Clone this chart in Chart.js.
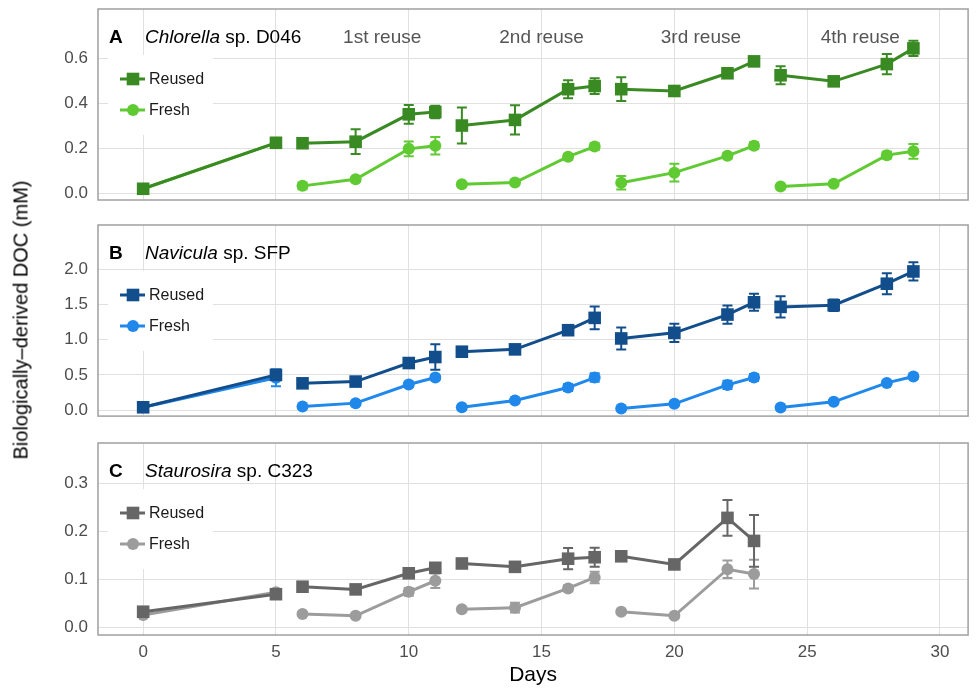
<!DOCTYPE html>
<html>
<head>
<meta charset="utf-8">
<script src="https://cdn.jsdelivr.net/npm/chart.js@4.4.1/dist/chart.umd.min.js"></script>
<style>
  body { margin: 0; background: #fff; }
  #wrap { position: relative; width: 977px; height: 689px; font-family: "Liberation Sans", Arial, sans-serif; }
  #wrap canvas { position: absolute; left: 0; }
  #ytitle { position: absolute; left: 21px; top: 320px; transform: translate(-50%, -50%) rotate(-90deg);
            white-space: nowrap; font-size: 20px; color: #000; }
</style>
</head>
<body>
<div id="wrap">
  <canvas id="panelA" width="977" height="215" style="top:0px"></canvas>
  <canvas id="panelB" width="977" height="210" style="top:215px"></canvas>
  <canvas id="panelC" width="977" height="264" style="top:425px"></canvas>
  <div id="ytitle">Biologically–derived DOC (mM)</div>
</div>
<script>
// sampling days; null marks a break between culture batches
const days = [0, 5, null, 6, 8, 10, 11, null, 12, 14, 16, 17, null, 18, 20, 22, 23, null, 24, 26, 28, 29];

// A - Chlorella sp. D046
const chlorellaReused    = [0.02, 0.225, null, 0.223, 0.23, 0.352, 0.362, null, 0.302, 0.327, 0.464, 0.478, null, 0.464, 0.456, 0.535, 0.588, null, 0.526, 0.499, 0.576, 0.646];
const chlorellaReusedErr = [0.008, 0.01, null, 0.008, 0.055, 0.042, 0.028, null, 0.08, 0.065, 0.04, 0.035, null, 0.053, 0.01, 0.015, 0.01, null, 0.04, 0.015, 0.045, 0.034];
const chlorellaFresh     = [0.02, 0.225, null, 0.033, 0.062, 0.198, 0.212, null, 0.040, 0.048, 0.163, 0.208, null, 0.047, 0.092, 0.167, 0.212, null, 0.030, 0.042, 0.170, 0.187];
const chlorellaFreshErr  = [0.005, 0.008, null, 0.015, 0.008, 0.033, 0.039, null, 0.008, 0.008, 0.012, 0.015, null, 0.03, 0.04, 0.012, 0.015, null, 0.006, 0.01, 0.015, 0.033];

// B - Navicula sp. SFP
const naviculaReused    = [0.04, 0.50, null, 0.38, 0.405, 0.668, 0.753, null, 0.829, 0.862, 1.134, 1.309, null, 1.017, 1.097, 1.356, 1.53, null, 1.465, 1.488, 1.794, 1.968];
const naviculaReusedErr = [0.03, 0.05, null, 0.03, 0.03, 0.04, 0.18, null, 0.03, 0.06, 0.05, 0.16, null, 0.157, 0.13, 0.13, 0.12, null, 0.15, 0.08, 0.15, 0.13];
const naviculaFresh     = [0.04, 0.46, null, 0.052, 0.099, 0.363, 0.462, null, 0.042, 0.137, 0.32, 0.462, null, 0.024, 0.089, 0.358, 0.462, null, 0.038, 0.117, 0.386, 0.476];
const naviculaFreshErr  = [0.02, 0.12, null, 0.02, 0.02, 0.03, 0.03, null, 0.02, 0.02, 0.05, 0.06, null, 0.02, 0.02, 0.06, 0.05, null, 0.02, 0.02, 0.03, 0.03];

// C - Staurosira sp. C323 (no 4th reuse)
const staurosiraReused    = [0.0325, 0.069, null, 0.0846, 0.079, 0.1125, 0.124, null, 0.133, 0.126, 0.143, 0.146, null, 0.148, 0.131, 0.228, 0.18, null, null, null, null, null];
const staurosiraReusedErr = [0.004, 0.007, null, 0.005, 0.005, 0.006, 0.01, null, 0.005, 0.005, 0.022, 0.02, null, 0.008, 0.005, 0.037, 0.054, null, null, null, null, null];
const staurosiraFresh     = [0.0256, 0.073, null, 0.0277, 0.024, 0.074, 0.097, null, 0.0375, 0.041, 0.081, 0.104, null, 0.0325, 0.024, 0.121, 0.111, null, null, null, null, null];
const staurosiraFreshErr  = [0.003, 0.005, null, 0.004, 0.004, 0.008, 0.015, null, 0.004, 0.01, 0.006, 0.012, null, 0.004, 0.004, 0.018, 0.03, null, null, null, null, null];

const dayTicks = [0, 5, 10, 15, 20, 25, 30];
const ticksA = [0, 0.2, 0.4, 0.6];
const ticksB = [0, 0.5, 1.0, 1.5, 2.0];
const ticksC = [0, 0.1, 0.2, 0.3];
const reuseLabels = ['1st reuse', '2nd reuse', '3rd reuse', '4th reuse'];

Chart.defaults.font.family = '"Liberation Sans", Arial, sans-serif';

const errorBars = {
  id: 'errorBars',
  afterDatasetDraw(chart, args) {
    const ds = chart.data.datasets[args.index];
    if (!ds.errors) return;
    const ctx = chart.ctx, xs = chart.scales.x, ys = chart.scales.y;
    ctx.save();
    ctx.strokeStyle = ds.borderColor;
    ctx.lineWidth = 2;
    ds.data.forEach((p, i) => {
      const e = ds.errors[i];
      if (p.y == null || e == null) return;
      const px = xs.getPixelForValue(p.x);
      const t = ys.getPixelForValue(p.y + e), b = ys.getPixelForValue(p.y - e);
      ctx.beginPath();
      ctx.moveTo(px, t); ctx.lineTo(px, b);
      ctx.moveTo(px - 5, t); ctx.lineTo(px + 5, t);
      ctx.moveTo(px - 5, b); ctx.lineTo(px + 5, b);
      ctx.stroke();
    });
    ctx.restore();
  }
};

function drawMarker(ctx, style, x, y, color) {
  ctx.fillStyle = color;
  if (style === 'rect') ctx.fillRect(x - 6.3, y - 6.3, 12.6, 12.6);
  else { ctx.beginPath(); ctx.arc(x, y, 6, 0, Math.PI * 2); ctx.fill(); }
}

const panelDeco = {
  id: 'panelDeco',
  afterDatasetsDraw(chart, args, opts) {
    const ctx = chart.ctx, a = chart.chartArea;
    ctx.save();
    // inset legend
    ctx.fillStyle = '#fff';
    ctx.fillRect(a.left + 10, a.top + 46, 105, 80);
    chart.data.datasets.forEach((ds, k) => {
      const y = a.top + 70 + k * 31;
      ctx.strokeStyle = ds.borderColor; ctx.lineWidth = 3;
      ctx.beginPath(); ctx.moveTo(a.left + 22, y); ctx.lineTo(a.left + 47, y); ctx.stroke();
      drawMarker(ctx, ds.pointStyle, a.left + 35, y, ds.borderColor);
      ctx.fillStyle = '#1a1a1a'; ctx.font = '16px "Liberation Sans", Arial, sans-serif';
      ctx.textBaseline = 'middle'; ctx.textAlign = 'left';
      ctx.fillText(ds.label, a.left + 51, y + 1);
    });
    // panel title
    const ty = a.top + 29;
    ctx.fillStyle = '#000'; ctx.textBaseline = 'middle'; ctx.textAlign = 'left';
    ctx.font = 'bold 19px "Liberation Sans", Arial, sans-serif';
    ctx.fillText(opts.letter, a.left + 11, ty);
    ctx.font = 'italic 19px "Liberation Sans", Arial, sans-serif';
    ctx.fillText(opts.genus, a.left + 47, ty);
    const gw = ctx.measureText(opts.genus).width;
    ctx.font = '19px "Liberation Sans", Arial, sans-serif';
    ctx.fillText(opts.rest, a.left + 47 + gw, ty);
    if (opts.reuseDays) {
      ctx.fillStyle = '#555'; ctx.textAlign = 'center';
      opts.reuseDays.forEach((d, i) => ctx.fillText(reuseLabels[i], chart.scales.x.getPixelForValue(d), ty));
    }
    ctx.restore();
  },
  afterDraw(chart) {
    const ctx = chart.ctx, a = chart.chartArea;
    ctx.save();
    ctx.strokeStyle = '#a0a0a0'; ctx.lineWidth = 1.5;
    ctx.strokeRect(a.left, a.top, a.right - a.left, a.bottom - a.top);
    ctx.restore();
  }
};

function series(label, vals, errs, color, style) {
  return {
    label, errors: errs,
    data: days.map((d, i) => ({ x: d, y: vals[i] })),
    borderColor: color, backgroundColor: color,
    borderWidth: 3, pointStyle: style,
    pointRadius: style === 'rect' ? 8.9 : 6,
    pointBorderWidth: 0, pointBackgroundColor: color,
    spanGaps: false, tension: 0
  };
}

function noEdgePadding(s) {
  s.paddingTop = 0; s.paddingBottom = 0; s.paddingLeft = 0; s.paddingRight = 0;
}

function makePanel(id, reused, fresh, yMin, yMax, yTicks, pad, deco, isBottom) {
  return new Chart(document.getElementById(id), {
    type: 'line',
    data: { datasets: [reused, fresh] },
    options: {
      responsive: false, animation: false, events: [],
      layout: { padding: { left: 0, right: 1, top: pad.top, bottom: pad.bottom } },
      plugins: { legend: { display: false }, tooltip: { enabled: false }, panelDeco: deco },
      scales: {
        x: {
          type: 'linear', min: -1.7, max: 31.06,
          afterBuildTicks: s => { s.ticks = dayTicks.map(v => ({ value: v })); },
          afterFit: s => { s.height = isBottom ? 54 : 0; noEdgePadding(s); },
          grid: { color: '#e0e0e0', lineWidth: 1, drawTicks: false },
          border: { display: false },
          ticks: { display: isBottom, padding: 7, color: '#4d4d4d', font: { size: 17 } },
          title: { display: isBottom, text: 'Days', color: '#000', font: { size: 21 }, padding: { top: 0, bottom: 1 } }
        },
        y: {
          min: yMin, max: yMax,
          afterBuildTicks: s => { s.ticks = yTicks.map(v => ({ value: v })); },
          afterFit: s => { s.width = 98; noEdgePadding(s); },
          grid: { color: '#e0e0e0', lineWidth: 1, drawTicks: false },
          border: { display: false },
          ticks: { padding: 10, color: '#4d4d4d', font: { size: 17 }, callback: v => v.toFixed(1) }
        }
      }
    },
    plugins: [errorBars, panelDeco]
  });
}

makePanel('panelA',
  series('Reused', chlorellaReused, chlorellaReusedErr, '#3a8a24', 'rect'),
  series('Fresh', chlorellaFresh, chlorellaFreshErr, '#60ca33', 'circle'),
  -0.030, 0.8215, ticksA, { top: 9, bottom: 15 },
  { letter: 'A', genus: 'Chlorella', rest: ' sp. D046', reuseDays: [9, 15, 21, 27] }, false);

makePanel('panelB',
  series('Reused', naviculaReused, naviculaReusedErr, '#134e8c', 'rect'),
  series('Fresh', naviculaFresh, naviculaFreshErr, '#2088ea', 'circle'),
  -0.085, 2.627, ticksB, { top: 10, bottom: 8 },
  { letter: 'B', genus: 'Navicula', rest: ' sp. SFP' }, false);

makePanel('panelC',
  series('Reused', staurosiraReused, staurosiraReusedErr, '#666666', 'rect'),
  series('Fresh', staurosiraFresh, staurosiraFreshErr, '#9c9c9c', 'circle'),
  -0.016, 0.384, ticksC, { top: 18, bottom: 0 },
  { letter: 'C', genus: 'Staurosira', rest: ' sp. C323' }, true);
</script>
</body>
</html>
